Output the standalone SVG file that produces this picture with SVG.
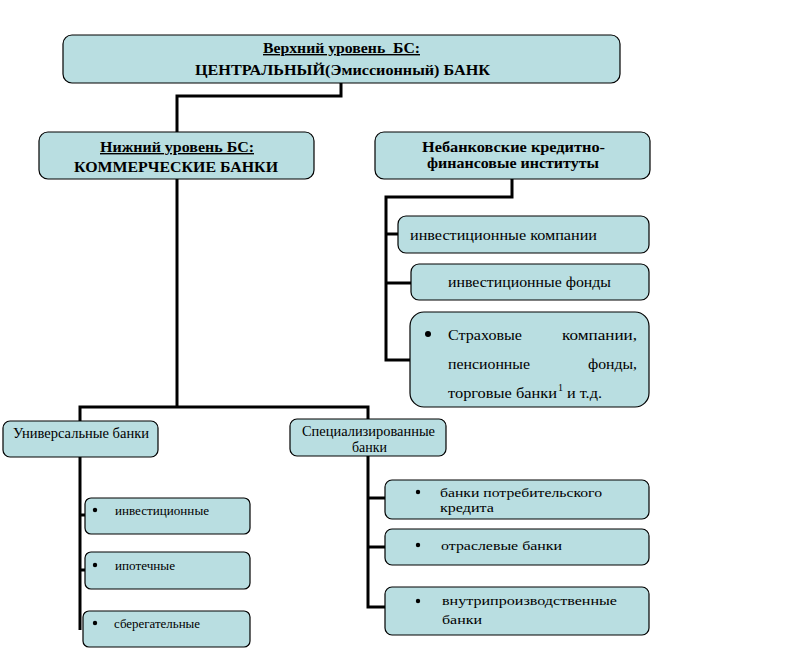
<svg xmlns="http://www.w3.org/2000/svg" width="790" height="650" viewBox="0 0 790 650" font-family="'Liberation Serif', 'Times New Roman', 'DejaVu Serif', serif">
<style>
.box{fill:#B9DEE1;stroke:#000;stroke-width:1.2}
.ln{fill:none;stroke:#000;stroke-width:3}
.t{font-family:'Liberation Serif','Times New Roman','DejaVu Serif',serif;fill:#000;white-space:pre}
.b{font-weight:bold;font-size:14px}
.m{font-size:14px}
.s{font-size:12px}
.u{text-decoration:underline}
</style>
<rect width="790" height="650" fill="#fff"/>
<g id="connectors">
<polyline class="ln" points="341,83 341,96 177,96 177,132"/>
<polyline class="ln" points="512,179 512,197 386,197 386,360 410,360"/>
<line class="ln" x1="386" y1="234" x2="398" y2="234"/>
<line class="ln" x1="386" y1="283" x2="411" y2="283"/>
<polyline class="ln" points="177,179 177,407"/>
<polyline class="ln" points="80,421 80,407 368,407 368,419"/>
<polyline class="ln" points="80,457 80,630"/>
<line class="ln" x1="80" y1="515" x2="85" y2="515"/>
<line class="ln" x1="80" y1="570" x2="85" y2="570"/>
<polyline class="ln" points="368,456 368,607 385,607"/>
<line class="ln" x1="368" y1="498" x2="385" y2="498"/>
<line class="ln" x1="368" y1="547" x2="385" y2="547"/>
</g>
<g id="central">
<rect class="box" x="63" y="35" width="557" height="48" rx="9"/>
<text class="t b u" x="263" y="53" textLength="157" lengthAdjust="spacingAndGlyphs" xml:space="preserve">Верхний уровень  БС:</text>
<text class="t b" x="195" y="75" textLength="295" lengthAdjust="spacingAndGlyphs">ЦЕНТРАЛЬНЫЙ(Эмиссионный) БАНК</text>
</g>
<g id="commercial">
<rect class="box" x="39" y="132" width="275" height="47" rx="9"/>
<text class="t b u" x="100" y="152" textLength="154" lengthAdjust="spacingAndGlyphs">Нижний уровень БС:</text>
<text class="t b" x="74" y="172" textLength="204" lengthAdjust="spacingAndGlyphs">КОММЕРЧЕСКИЕ БАНКИ</text>
</g>
<g id="nonbank">
<rect class="box" x="375" y="132" width="275" height="47" rx="9"/>
<text class="t b" x="422" y="152" textLength="183" lengthAdjust="spacingAndGlyphs">Небанковские кредитно-</text>
<text class="t b" x="427" y="168" textLength="172" lengthAdjust="spacingAndGlyphs">финансовые институты</text>
</g>
<g id="invest-companies">
<rect class="box" x="398" y="216" width="251" height="37" rx="8"/>
<text class="t m" x="410" y="240" textLength="187" lengthAdjust="spacingAndGlyphs">инвестиционные компании</text>
</g>
<g id="invest-funds">
<rect class="box" x="411" y="264" width="238" height="36" rx="8"/>
<text class="t m" x="448" y="287" textLength="163" lengthAdjust="spacingAndGlyphs">инвестиционные фонды</text>
</g>
<g id="insurance">
<rect class="box" x="410" y="312" width="239" height="95" rx="14"/>
<circle cx="428" cy="334" r="3"/>
<text class="t m" x="448" y="340" textLength="74" lengthAdjust="spacingAndGlyphs">Страховые</text>
<text class="t m" x="562" y="340" textLength="75" lengthAdjust="spacingAndGlyphs">компании,</text>
<text class="t m" x="448" y="369" textLength="82" lengthAdjust="spacingAndGlyphs">пенсионные</text>
<text class="t m" x="588" y="369" textLength="49" lengthAdjust="spacingAndGlyphs">фонды,</text>
<text class="t m" x="448" y="398" textLength="109" lengthAdjust="spacingAndGlyphs">торговые банки</text>
<text class="t" x="558" y="391" font-size="10">1</text>
<text class="t m" x="567" y="398" textLength="35" lengthAdjust="spacingAndGlyphs">и т.д.</text>
</g>
<g id="universal">
<rect class="box" x="3" y="421" width="155" height="36" rx="7"/>
<text class="t m" x="13" y="438" textLength="136" lengthAdjust="spacingAndGlyphs">Универсальные банки</text>
</g>
<g id="specialized">
<rect class="box" x="290" y="419" width="156" height="37" rx="7"/>
<text class="t m" x="302" y="436" textLength="133" lengthAdjust="spacingAndGlyphs">Специализированные</text>
<text class="t m" x="352" y="452" textLength="35" lengthAdjust="spacingAndGlyphs">банки</text>
</g>
<g id="u-invest">
<rect class="box" x="85" y="498" width="165" height="36" rx="6"/>
<circle cx="95" cy="510" r="2.2"/>
<text class="t s" x="115" y="515" textLength="94" lengthAdjust="spacingAndGlyphs">инвестиционные</text>
</g>
<g id="u-mortgage">
<rect class="box" x="85" y="552" width="165" height="37" rx="6"/>
<circle cx="95" cy="565" r="2.2"/>
<text class="t s" x="115" y="570" textLength="60" lengthAdjust="spacingAndGlyphs">ипотечные</text>
</g>
<g id="u-savings">
<rect class="box" x="83" y="611" width="167" height="36" rx="6"/>
<circle cx="95" cy="623" r="2.2"/>
<text class="t s" x="114" y="628" textLength="86" lengthAdjust="spacingAndGlyphs">сберегательные</text>
</g>
<g id="s-consumer">
<rect class="box" x="385" y="480" width="264" height="39" rx="7"/>
<circle cx="418" cy="492" r="2.2"/>
<text class="t s" x="440" y="497" textLength="162" lengthAdjust="spacingAndGlyphs">банки потребительского</text>
<text class="t s" x="440" y="512" textLength="54" lengthAdjust="spacingAndGlyphs">кредита</text>
</g>
<g id="s-sector">
<rect class="box" x="385" y="529" width="264" height="36" rx="7"/>
<circle cx="418" cy="545" r="2.2"/>
<text class="t s" x="441" y="550" textLength="121" lengthAdjust="spacingAndGlyphs">отраслевые банки</text>
</g>
<g id="s-inhouse">
<rect class="box" x="385" y="587" width="264" height="48" rx="7"/>
<circle cx="418" cy="601" r="2.2"/>
<text class="t s" x="442" y="605" textLength="175" lengthAdjust="spacingAndGlyphs">внутрипроизводственные</text>
<text class="t s" x="442" y="624" textLength="40" lengthAdjust="spacingAndGlyphs">банки</text>
</g>
</svg>
